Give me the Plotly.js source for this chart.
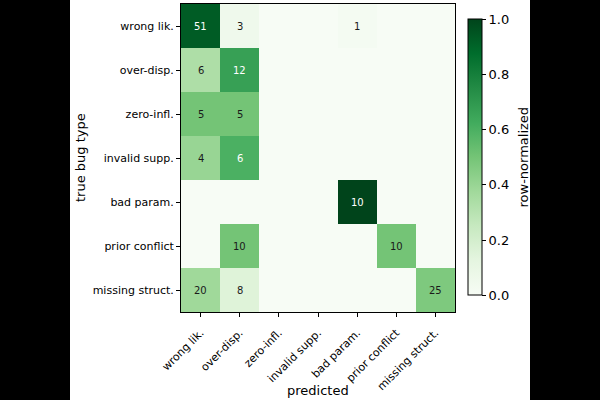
<!DOCTYPE html>
<html>
<head>
<meta charset="utf-8">
<script src="https://cdn.plot.ly/plotly-3.0.1.min.js"></script>
<style>
  html, body { margin: 0; padding: 0; background: #ffffff; }
  #chart { width: 600px; height: 400px; }
</style>
</head>
<body>
<div id="chart"></div>
<script>
// Bug categories (rows = true type, columns = predicted type)
const categories = ['wrong lik.', 'over-disp.', 'zero-infl.', 'invalid supp.', 'bad param.', 'prior conflict', 'missing struct.'];

// Raw confusion counts, one array per true bug type
const rowWrongLik      = [51, 3, 0, 0, 1, 0, 0];
const rowOverDisp      = [6, 12, 0, 0, 0, 0, 0];
const rowZeroInfl      = [5, 5, 0, 0, 0, 0, 0];
const rowInvalidSupp   = [4, 6, 0, 0, 0, 0, 0];
const rowBadParam      = [0, 0, 0, 0, 10, 0, 0];
const rowPriorConflict = [0, 10, 0, 0, 0, 10, 0];
const rowMissingStruct = [20, 8, 0, 0, 0, 0, 25];

const counts = [rowWrongLik, rowOverDisp, rowZeroInfl, rowInvalidSupp, rowBadParam, rowPriorConflict, rowMissingStruct];

const colorbarTicks = [0, 0.2, 0.4, 0.6, 0.8, 1.0];

// Row-normalize so each true class sums to 1
const normalized = counts.map(row => {
  const total = row.reduce((a, b) => a + b, 0);
  return row.map(v => total > 0 ? v / total : 0);
});

// matplotlib "Greens" colormap stops
const greens = [
  [0.0, '#f7fcf5'], [0.125, '#e5f5e0'], [0.25, '#c7e9c0'], [0.375, '#a1d99b'],
  [0.5, '#74c476'], [0.625, '#41ab5d'], [0.75, '#238b45'], [0.875, '#006d2c'], [1.0, '#00441b']
];

const FONT = 'DejaVu Sans, Verdana, sans-serif';

const trace = {
  type: 'heatmap',
  x: categories,
  y: categories,
  z: normalized,
  zmin: 0,
  zmax: 1,
  colorscale: greens,
  hoverinfo: 'skip',
  colorbar: {
    x: 467.7 / 600, xanchor: 'left', xpad: 0,
    y: 1 - 157.3 / 400, yanchor: 'middle', ypad: 0,
    len: 276, lenmode: 'pixels',
    thickness: 14,
    outlinecolor: '#000', outlinewidth: 1,
    ticks: 'outside', ticklen: 4, tickcolor: '#000', tickwidth: 1,
    tickvals: colorbarTicks, tickformat: '.1f',
    tickfont: { family: FONT, size: 13, color: '#000' }
  }
};

// Cell labels: count text, white on dark cells, blank for empty cells
const annotations = [];
counts.forEach((row, i) => {
  row.forEach((v, j) => {
    if (v === 0) return;
    annotations.push({
      x: categories[j], y: categories[i], xref: 'x', yref: 'y',
      text: String(v), showarrow: false,
      font: { family: FONT, size: 10, color: normalized[i][j] > 0.5 ? '#ffffff' : '#1a1a1a' }
    });
  });
});

// Axis titles and colorbar label
annotations.push({
  xref: 'paper', yref: 'paper', x: 318 / 600, y: 1 - 390 / 400,
  text: 'predicted', showarrow: false, xanchor: 'center', yanchor: 'middle',
  font: { family: FONT, size: 13, color: '#000' }
});
annotations.push({
  xref: 'paper', yref: 'paper', x: 80 / 600, y: 1 - 158 / 400,
  text: 'true bug type', showarrow: false, textangle: -90, xanchor: 'center', yanchor: 'middle',
  font: { family: FONT, size: 13, color: '#000' }
});
annotations.push({
  xref: 'paper', yref: 'paper', x: 523 / 600, y: 1 - 157.5 / 400,
  text: 'row-normalized', showarrow: false, textangle: -90, xanchor: 'center', yanchor: 'middle',
  font: { family: FONT, size: 13, color: '#000' }
});

const axisCommon = {
  type: 'category',
  showgrid: false, zeroline: false,
  showline: true, mirror: true, linecolor: '#000', linewidth: 1,
  ticks: 'outside', ticklen: 4, tickcolor: '#000', tickwidth: 1,
  tickfont: { family: FONT, size: 11, color: '#000' }
};

const layout = {
  width: 600, height: 400,
  margin: { l: 0, r: 0, t: 0, b: 0 },
  paper_bgcolor: '#ffffff', plot_bgcolor: '#ffffff',
  xaxis: Object.assign({}, axisCommon, {
    domain: [181 / 600, 455 / 600],
    tickangle: -45,
    ticklabelstandoff: 5,
    categoryorder: 'array', categoryarray: categories
  }),
  yaxis: Object.assign({}, axisCommon, {
    domain: [1 - 312 / 400, 1 - 4 / 400],
    autorange: 'reversed',
    categoryorder: 'array', categoryarray: categories
  }),
  annotations: annotations,
  // dark side bands framing the figure
  shapes: [
    { type: 'rect', xref: 'paper', yref: 'paper', x0: 0, x1: 70 / 600, y0: 0, y1: 1, fillcolor: '#000', line: { width: 0 }, layer: 'below' },
    { type: 'rect', xref: 'paper', yref: 'paper', x0: 530 / 600, x1: 1, y0: 0, y1: 1, fillcolor: '#000', line: { width: 0 }, layer: 'below' }
  ],
  showlegend: false
};

Plotly.newPlot('chart', [trace], layout, { staticPlot: true, displayModeBar: false });
</script>
</body>
</html>
